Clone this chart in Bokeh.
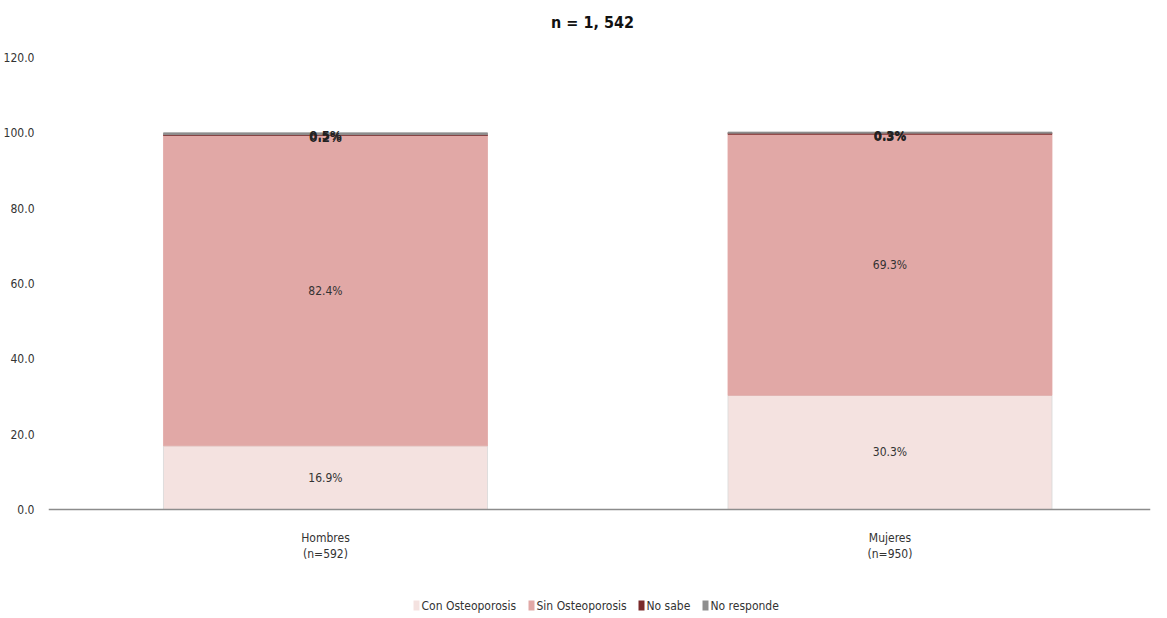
from bokeh.plotting import figure
from bokeh.models import ColumnDataSource, FixedTicker, NumeralTickFormatter, Range1d, LabelSet, Span
from bokeh.embed import file_html
from bokeh.resources import INLINE
from bokeh.core.properties import value

cat_names = ["Hombres", "Mujeres"]
cat_ns = ["(n=592)", "(n=950)"]
series = ["Con Osteoporosis", "Sin Osteoporosis", "No sabe", "No responde"]
con_osteo = [16.9, 30.3]
sin_osteo = [82.4, 69.3]
no_sabe = [0.2, 0.3]
no_responde = [0.5, 0.3]
colors = ["#F4E2E0", "#E1A8A6", "#7A2A2A", "#8E8E8E"]
y_ticks = [0, 20, 40, 60, 80, 100, 120]
title_text = "n = 1, 542"

FONT = "'Liberation Sans Narrow', 'DejaVu Sans Condensed', 'Roboto Condensed', Lato, sans-serif"

# layout helpers (pixels -> data units)
PX = 120 / 452.0             # y units per pixel
FRAME_LEFT = 48
X0 = -0.4907
XU = 1.9522 / 1102.0         # x units per pixel
def xpx(px):
    return X0 + (px - FRAME_LEFT) * XU

p = figure(frame_width=1102, frame_height=606, output_backend="svg", toolbar_location=None,
           x_range=Range1d(X0, X0 + 1.9522), y_range=Range1d(-107 * PX, 120 + 47 * PX),
           min_border_left=38, min_border_right=5, min_border_top=10, min_border_bottom=0)
p.outline_line_color = None
p.grid.grid_line_color = None
p.background_fill_color = "white"
p.xaxis.visible = False

xs = list(range(len(cat_names)))
vals = [con_osteo, sin_osteo, no_sabe, no_responde]
bottoms = [0.0] * len(xs)
for name, v, c in zip(series, vals, colors):
    tops = [b + vv for b, vv in zip(bottoms, v)]
    src = ColumnDataSource(dict(x=xs, bottom=bottoms, top=tops,
                                mid=[(b + t) / 2 for b, t in zip(bottoms, tops)],
                                lab=[f"{vv:.1f}%" for vv in v]))
    p.vbar(x="x", bottom="bottom", top="top", width=0.574, source=src,
           fill_color=c, line_color="#D8D8D8" if name == "Con Osteoporosis" else c, line_width=0.8)
    if name in ("No sabe", "No responde"):
        labels = LabelSet(x="x", y="top", text="lab", source=src, text_align="center",
                          text_baseline="middle", text_font=value(FONT), text_font_size="13px",
                          text_font_style="bold", text_color="#222222", y_offset=-3)
    else:
        labels = LabelSet(x="x", y="mid", text="lab", source=src, text_align="center",
                          text_baseline="middle", text_font=value(FONT), text_font_size="12px",
                          text_color="#333333")
    p.add_layout(labels)
    bottoms = tops

# baseline (x axis line)
p.add_layout(Span(location=0, dimension="width", line_color="#8C8C8C", line_width=1.5))

# category labels
p.text(x=xs, y=[-28 * PX] * len(xs), text=cat_names, text_align="center", text_baseline="middle",
       text_font=value(FONT), text_font_size="12px", text_color="#333333")
p.text(x=xs, y=[-44 * PX] * len(xs), text=cat_ns, text_align="center", text_baseline="middle",
       text_font=value(FONT), text_font_size="12px", text_color="#333333")

# y axis
p.yaxis.ticker = FixedTicker(ticks=y_ticks)
p.yaxis.formatter = NumeralTickFormatter(format="0.0")
p.yaxis.axis_line_color = None
p.yaxis.major_tick_line_color = None
p.yaxis.minor_tick_line_color = None
p.yaxis.major_label_standoff = 8
p.yaxis.major_label_text_font = FONT
p.yaxis.major_label_text_font_size = "12px"
p.yaxis.major_label_text_color = "#333333"

# title
p.text(x=[xpx(592)], y=[120 + 35 * PX], text=[title_text], text_align="center", text_baseline="middle",
       text_font=value(FONT), text_font_size="16px", text_font_style="bold", text_color="#111111")

# legend
legend_px = [416, 531, 641, 705]
ly = -96 * PX
p.rect(x=[xpx(v) for v in legend_px], y=[ly] * 4, width=6, height=10,
       width_units="screen", height_units="screen", fill_color=colors, line_color=None)
p.text(x=[xpx(v + 5) for v in legend_px], y=[ly] * 4, text=series, text_align="left",
       text_baseline="middle", text_font=value(FONT), text_font_size="12px", text_color="#333333")

open("out.html", "w").write(file_html(p, INLINE))
